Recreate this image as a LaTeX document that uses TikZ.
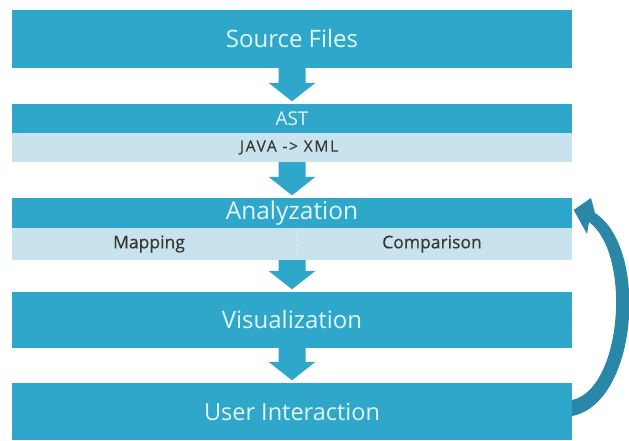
\documentclass[tikz,border=0pt]{standalone}
\usepackage{fontspec}
\setmainfont{Open Sans}
\usetikzlibrary{calc}

\definecolor{teal}{HTML}{2FA7CB}
\definecolor{tealdark}{HTML}{2A87A7}
\definecolor{bandblue}{HTML}{C8E3ED}
\definecolor{captext}{HTML}{E2F6FB}
\definecolor{bandtext}{HTML}{383838}

\tikzset{
  x=1pt, y=1pt,
  stagebox/.style={fill=teal, draw=none, minimum width=560pt, inner sep=0pt,
    text=captext, font=\fontsize{24}{26}\selectfont},
  bandbox/.style={fill=bandblue, draw=none, minimum width=560pt, inner sep=0pt},
  bandlabel/.style={text=bandtext, inner sep=0pt,
    font=\fontsize{17.5}{19}\selectfont\addfontfeatures{FakeBold=0.6}},
  flowfill/.style={fill=teal, draw=none},
}

% down-pointing block arrow between two stacked boxes
\newcommand\flowarrow[2]{%
  \fill[flowfill]
    ($(#1.south)+(-13.5,0)$) -- ($(#1.south)+(13.5,0)$)
    -- ($(#2.north)+(13.5,21)$) -- ($(#2.north)+(23.5,21)$)
    -- ($(#2.north)+(0,2.5)$)
    -- ($(#2.north)+(-23.5,21)$) -- ($(#2.north)+(-13.5,21)$) -- cycle;}

\begin{document}
\begin{tikzpicture}
\useasboundingbox (0,0) rectangle (629,441);
\fill[white] (0,0) rectangle (629,441);

% stages
\node[stagebox, minimum height=58pt] (src) at (292,402) {Source Files};

\node[stagebox, minimum height=29pt, font=\fontsize{19}{21}\selectfont] (ast) at (292,322.5) {AST};
\node[bandbox, minimum height=29pt] (astband) at (292,293.5) {};
\node[bandlabel, font=\fontsize{15.5}{17}\selectfont\addfontfeatures{LetterSpace=11,FakeBold=0.4}]
  (javaxml) at (289,293.5) {JAVA -> XML};

\node[stagebox, minimum height=30pt, font=\fontsize{24.5}{26}\selectfont] (ana) at (292,228) {Analyzation};
\node[bandbox, minimum height=32pt] (anaband) at (292,197) {};
\node[bandlabel] (mapping) at (149,197) {Mapping};
\node[bandlabel] (comparison) at (432,197) {Comparison};
\draw[white, opacity=0.45, line width=0.8pt, dash pattern=on 1pt off 1.5pt]
  ($(anaband.north)+(5,0)$) -- ($(anaband.south)+(5,0)$);

\node[stagebox, minimum height=56pt] (vis) at (292,121) {Visualization};
\node[stagebox, minimum height=57pt, font=\fontsize{23.5}{25}\selectfont] (ui) at (292,29.5) {User Interaction};

% flow between stages
\flowarrow{src}{ast}
\flowarrow{astband}{ana}
\flowarrow{anaband}{vis}
\flowarrow{vis}{ui}

% feedback loop from user interaction back to analysis (tapered curved arrow)
\fill[tealdark]
  ($(ui.east)+(0,-4.5)$) .. controls (638,38) and (649,193) .. (595,228)
  -- (591,243) -- ($(ana.east)+(1.5,3)$) -- (587,207) -- (589,219)
  .. controls (632,187) and (622,52) .. ($(ui.east)+(0,11.5)$) -- cycle;
\end{tikzpicture}
\end{document}
